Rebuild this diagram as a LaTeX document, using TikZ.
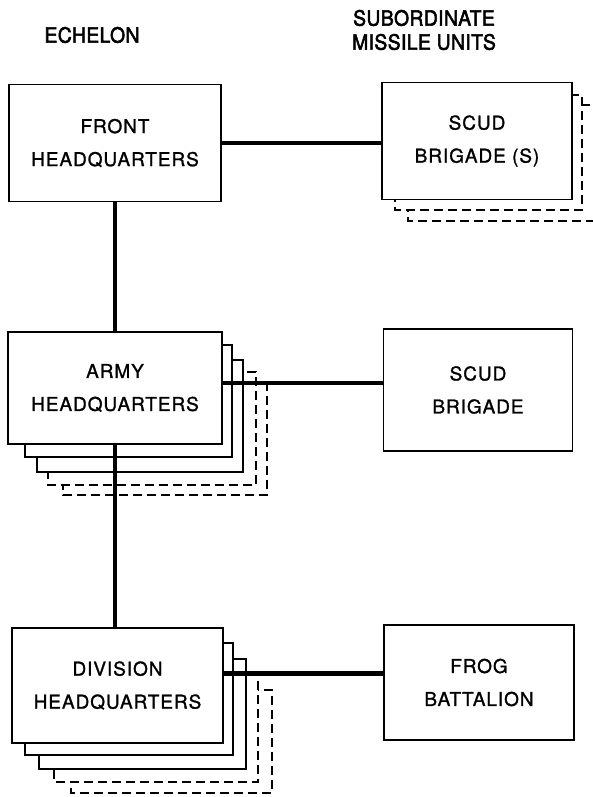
\documentclass[tikz,border=0pt]{standalone}
\usepackage{fontspec}
\setmainfont{TeX Gyre Heros}[LetterSpace=5,FakeBold=1.2]
\newfontfamily\headfont{TeX Gyre Heros}[LetterSpace=2,FakeStretch=0.92,FakeBold=2.5]
\tikzset{every picture/.style={line width=1.5pt}}

\begin{document}
\begin{tikzpicture}[x=1pt,y=1pt,yscale=-1,xscale=1,
  unitbox/.style={draw,fill=white,inner sep=0pt,align=center,font=\fontsize{19}{33}\selectfont},
  link/.style={line width=4.5pt},
  header/.style={align=center,font=\headfont\fontsize{21}{24}\selectfont},
  dashcopy/.style={dash pattern=on 9pt off 5pt}]
\fill[white] (0,0) rectangle (592,797);
\useasboundingbox (0,0) rectangle (592,797);

% Column headings
\node[header] (echelon) at (92,35) {ECHELON};
\node[header] (subunits) at (424,30) {SUBORDINATE\\MISSILE UNITS};

% Copies stacked behind the boxes, back-most first
\foreach \l/\t/\r/\b/\s in {408/105/600/221/dashcopy, 395/95/582/210/dashcopy,
    63/383/267/495/dashcopy, 48/372/256/485/dashcopy, 37/360/243/472/solid, 25/345/232/457/solid,
    71/690/272/793/dashcopy, 54/672/258/782/dashcopy, 39/659/246/769/solid, 25/643/233/755/solid}
  \draw[\s,fill=white] (\l,\t) rectangle (\r,\b);

% Echelon boxes
\node[unitbox,minimum width=212pt,minimum height=117pt] (front) at (115,143) {FRONT\\HEADQUARTERS};
\node[unitbox,minimum width=214pt,minimum height=112pt] (army) at (115,388) {ARMY\\HEADQUARTERS};
\node[unitbox,minimum width=211pt,minimum height=115pt] (div) at (117.5,685.5) {DIVISION\\HEADQUARTERS};

% Missile unit boxes
\node[unitbox,minimum width=190pt,minimum height=117pt] (scudS) at (477,141) {SCUD\\BRIGADE (S)};
\node[unitbox,minimum width=189pt,minimum height=122pt] (scud) at (478,390) {SCUD\\BRIGADE};
\node[unitbox,minimum width=190pt,minimum height=115pt] (frog) at (479,682.5) {FROG\\BATTALION};

% Connectors
\draw[link] (front.east) -- (front.east -| scudS.west);
\draw[link] (front.south) -- (army.north);
\draw[link] ([yshift=-5pt]army.east) -- ([yshift=-5pt]army.east -| scud.west);
\draw[link] (army.south) -- (army.south |- div.north);
\draw[link] ([yshift=-12pt]div.east) -- ([yshift=-12pt]div.east -| frog.west);
\end{tikzpicture}
\end{document}
